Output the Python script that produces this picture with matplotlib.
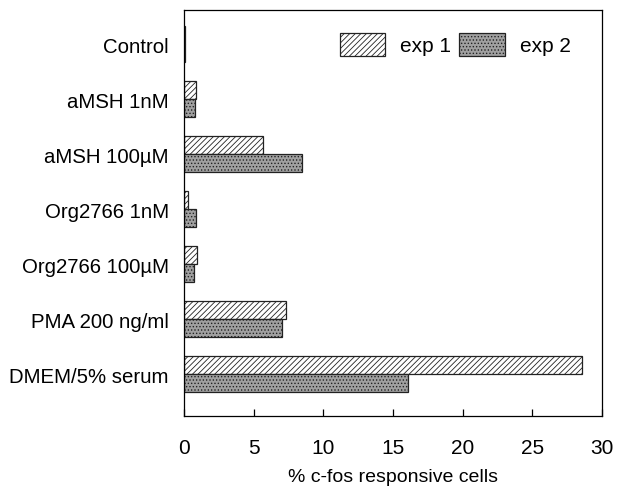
import matplotlib
matplotlib.use("Agg")
import matplotlib.pyplot as plt
import numpy as np

categories = ["Control", "aMSH 1nM", "aMSH 100\u00b5M", "Org2766 1nM",
              "Org2766 100\u00b5M", "PMA 200 ng/ml", "DMEM/5% serum"]
exp1 = [0.1, 0.85, 5.7, 0.3, 0.95, 7.3, 28.6]
exp2 = [0.1, 0.78, 8.5, 0.85, 0.72, 7.0, 16.1]
xticks = [0, 5, 10, 15, 20, 25, 30]

plt.rcParams['font.family'] = ['Liberation Sans', 'DejaVu Sans']
plt.rcParams['hatch.linewidth'] = 0.6

fig = plt.figure(figsize=(6.23, 4.89), dpi=100)
ax = fig.add_axes([184/623, 1-417/489, (602-184)/623, (417-11)/489])

y = np.arange(len(categories))
h = 0.33
ax.barh(y - h/2, exp1, height=h, color='white', edgecolor='#222222',
        hatch='//////', linewidth=0.9, label='exp 1')
ax.barh(y + h/2, exp2, height=h, color='#a0a0a0', edgecolor='#222222',
        hatch='.....', linewidth=0.9, label='exp 2')

ax.set_xlim(0, 30)
ax.set_ylim(6.76, -0.62)
ax.set_yticks(y)
ax.set_yticklabels(categories, fontsize=14.7)
ax.tick_params(axis='y', length=0, pad=11)
ax.set_xticks(xticks)
ax.set_xticklabels([str(t) for t in xticks], fontsize=15)
ax.tick_params(axis='x', direction='in', length=5, pad=16, width=0.9)
ax.set_xlabel('% c-fos responsive cells', fontsize=14, labelpad=8)
for s in ax.spines.values():
    s.set_linewidth(0.9)

leg = ax.legend(loc='upper right', ncol=2, frameon=False, fontsize=15,
                handlelength=2.2, handleheight=1.35, columnspacing=0.4,
                handletextpad=0.7, borderaxespad=0.0,
                bbox_to_anchor=(0.945, 0.965))

fig.savefig('out.png', dpi=100)
